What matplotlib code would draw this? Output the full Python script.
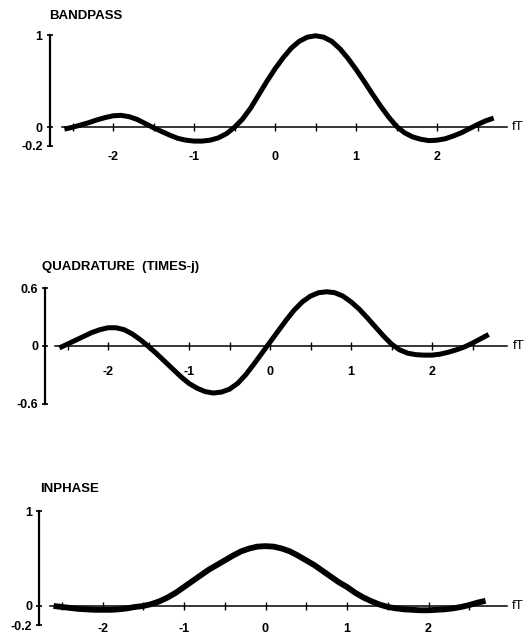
import numpy as np
import matplotlib
matplotlib.use("Agg")
from matplotlib import pyplot as plt
from matplotlib.ticker import FixedLocator

plt.rcParams["font.family"] = "Liberation Sans"
plt.rcParams["font.weight"] = "bold"
plt.rcParams["axes.unicode_minus"] = False

# normalised frequency fT
FT = np.round(np.arange(-2.6, 2.75, 0.1), 1)

BANDPASS = [-0.02, 0.0, 0.025, 0.05, 0.08, 0.105, 0.125, 0.13, 0.115, 0.085,
            0.04, -0.005, -0.045, -0.085, -0.12, -0.14, -0.15, -0.15, -0.14, -0.115,
            -0.07, 0.0, 0.09, 0.21, 0.355, 0.5, 0.635, 0.755, 0.86, 0.935,
            0.98, 0.995, 0.98, 0.935, 0.855, 0.75, 0.63, 0.5, 0.365, 0.235,
            0.115, 0.01, -0.06, -0.105, -0.13, -0.145, -0.14, -0.125, -0.095, -0.06,
            -0.015, 0.03, 0.07, 0.1]

QUADRATURE = [-0.02, 0.02, 0.06, 0.1, 0.14, 0.17, 0.19, 0.19, 0.17, 0.125,
              0.065, -0.005, -0.08, -0.16, -0.24, -0.32, -0.39, -0.44, -0.475, -0.49,
              -0.48, -0.45, -0.39, -0.3, -0.19, -0.075, 0.04, 0.155, 0.27, 0.375,
              0.46, 0.52, 0.555, 0.565, 0.555, 0.52, 0.46, 0.385, 0.295, 0.2,
              0.105, 0.02, -0.04, -0.075, -0.09, -0.095, -0.095, -0.085, -0.065, -0.04,
              -0.01, 0.03, 0.075, 0.12]

INPHASE = [0.0, -0.01, -0.02, -0.03, -0.035, -0.04, -0.04, -0.04, -0.035, -0.025,
           -0.01, 0.0, 0.02, 0.05, 0.09, 0.14, 0.2, 0.26, 0.32, 0.38,
           0.43, 0.48, 0.53, 0.575, 0.605, 0.625, 0.63, 0.625, 0.605, 0.575,
           0.53, 0.48, 0.43, 0.37, 0.31, 0.25, 0.2, 0.14, 0.09, 0.05,
           0.015, -0.01, -0.025, -0.035, -0.04, -0.045, -0.045, -0.04, -0.035, -0.025,
           -0.01, 0.01, 0.035, 0.055]

FT_TICKS = [-2, -1, 0, 1, 2]
FT_HALF_TICKS = [-2.5, -1.5, -0.5, 0.5, 1.5, 2.5]

BP_YTICKS = [-0.2, 0, 1]
BP_YLABELS = ["-0.2", "0", "1"]
Q_YTICKS = [-0.6, 0, 0.6]
Q_YLABELS = ["-0.6", "0", "0.6"]
I_YTICKS = [-0.2, 0, 1]
I_YLABELS = ["-0.2", "0", "1"]

W, H = 527, 635
XLIM = (-3.3, 3.4)


def add_panel(fig, x0, xs, y0, ys, ylim):
    # x0/y0: pixel position of the origin, xs/ys: pixels per unit
    left = x0 + XLIM[0] * xs
    right = x0 + XLIM[1] * xs
    top = y0 - ylim[1] * ys
    bottom = y0 - ylim[0] * ys
    ax = fig.add_axes([left / W, 1 - bottom / H, (right - left) / W, (bottom - top) / H])
    ax.set_xlim(*XLIM)
    ax.set_ylim(*ylim)
    ax.patch.set_alpha(0)
    return ax


def draw_panel(ax, values, title, title_px, yticks, ylabels, xpad, ypad, xbounds, lw):
    ax.plot(FT, values, color="black", lw=lw, solid_capstyle="butt",
            solid_joinstyle="round", zorder=3)

    for side in ("top", "right"):
        ax.spines[side].set_visible(False)
    ax.spines["left"].set_position(("data", -2.78))
    ax.spines["left"].set_bounds(min(yticks), max(yticks))
    ax.spines["left"].set_linewidth(1.6)
    ax.spines["bottom"].set_position(("data", 0))
    ax.spines["bottom"].set_bounds(*xbounds)
    ax.spines["bottom"].set_linewidth(1.1)

    ax.set_xticks(FT_TICKS)
    ax.set_xticklabels([str(t) for t in FT_TICKS])
    ax.xaxis.set_minor_locator(FixedLocator(FT_HALF_TICKS))
    ax.tick_params(axis="x", which="both", direction="inout", length=5.8,
                   width=1.0, pad=xpad, labelsize=9)

    ax.set_yticks(yticks)
    ax.set_yticklabels(ylabels)
    ax.tick_params(axis="y", direction="inout", length=4.5, width=1.2,
                   pad=ypad, labelsize=9)

    ax.annotate("fT", xy=(xbounds[1], 0), xytext=(4, 0), textcoords="offset points",
                ha="left", va="center", fontsize=9.5, fontweight="normal",
                annotation_clip=False)

    ax.figure.text(title_px[0] / W, 1 - title_px[1] / H, title, ha="left",
                   va="center", fontsize=9.5, fontweight="bold")


fig = plt.figure(figsize=(W / 100, H / 100), dpi=100)

ax1 = add_panel(fig, 275, 81, 127.3, 92, (-0.4, 1.15))
draw_panel(ax1, BANDPASS, "BANDPASS", (49, 16), BP_YTICKS, BP_YLABELS,
           xpad=14.5, ypad=3, xbounds=(-2.63, 2.86), lw=3.6)

ax2 = add_panel(fig, 270, 81, 346, 96, (-0.75, 0.75))
draw_panel(ax2, QUADRATURE, "QUADRATURE  (TIMES-j)", (42, 267), Q_YTICKS, Q_YLABELS,
           xpad=11.5, ypad=2.5, xbounds=(-2.65, 2.93), lw=3.6)

ax3 = add_panel(fig, 265.5, 81.5, 606, 95, (-0.3, 1.15))
draw_panel(ax3, INPHASE, "INPHASE", (40, 489), I_YTICKS, I_YLABELS,
           xpad=9.5, ypad=2.5, xbounds=(-2.65, 2.96), lw=4.2)

fig.savefig("out.png", dpi=100)
